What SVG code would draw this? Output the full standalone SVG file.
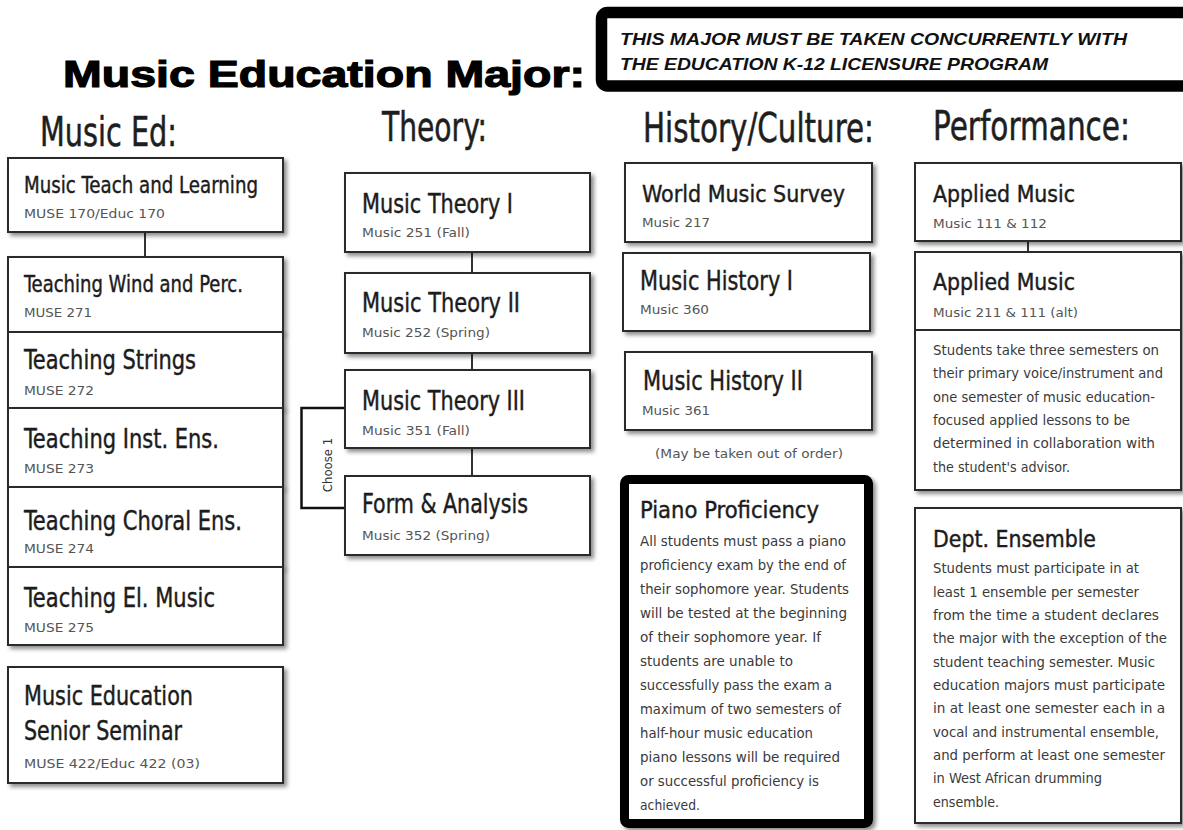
<svg xmlns="http://www.w3.org/2000/svg" width="1183" height="830" viewBox="0 0 1183 830">
<defs>
<filter id="sh" x="-10%" y="-10%" width="125%" height="125%">
<feDropShadow dx="3" dy="3" stdDeviation="2.2" flood-color="#000" flood-opacity="0.45"/>
</filter>
<style>
.bx{fill:#fff;stroke:#2a2a2a;stroke-width:2;filter:url(#sh)}
.ln{fill:none;stroke:#333;stroke-width:2}
.tt{font-family:"Liberation Sans Narrow","DejaVu Sans Condensed","Roboto Condensed","Liberation Sans",sans-serif;fill:#1c1c1c;stroke:#1c1c1c;stroke-width:0.4}
.t26{font-size:26px}
.t23{font-size:23px}
.sub{font-family:"Liberation Sans Narrow","DejaVu Sans Condensed","Liberation Sans",sans-serif;font-size:12px;fill:#555}
.body{font-family:"Liberation Sans Narrow","DejaVu Sans Condensed","Liberation Sans",sans-serif;font-size:13.5px;fill:#3a3a3a}
.hd{font-family:"Liberation Sans Narrow","DejaVu Sans Condensed","Liberation Sans",sans-serif;font-size:40px;fill:#1e1e1e;stroke:#1e1e1e;stroke-width:0.5}
</style>
</defs>
<rect width="1183" height="830" fill="#fff"/>

<g id="title">
<text x="63" y="87" font-family="Liberation Sans, Arial, sans-serif" font-weight="bold" font-size="37" fill="#000" stroke="#000" stroke-width="1.2" textLength="522" lengthAdjust="spacingAndGlyphs">Music Education Major:</text>
</g>

<g id="notice">
<rect x="601.5" y="12.5" width="600" height="73.5" rx="6" fill="#fff" stroke="#000" stroke-width="11.5"/>
<text x="620" y="45" font-family="Liberation Sans, Arial, sans-serif" font-weight="bold" font-style="italic" font-size="17" fill="#111" textLength="507" lengthAdjust="spacingAndGlyphs">THIS MAJOR MUST BE TAKEN CONCURRENTLY WITH</text>
<text x="620" y="70" font-family="Liberation Sans, Arial, sans-serif" font-weight="bold" font-style="italic" font-size="17" fill="#111" textLength="428" lengthAdjust="spacingAndGlyphs">THE EDUCATION K-12 LICENSURE PROGRAM</text>
</g>

<g id="headers">
<text class="hd" x="40" y="146" textLength="137" lengthAdjust="spacingAndGlyphs">Music Ed:</text>
<text class="hd" x="382" y="141" textLength="105" lengthAdjust="spacingAndGlyphs">Theory:</text>
<text class="hd" x="643" y="142" textLength="231" lengthAdjust="spacingAndGlyphs">History/Culture:</text>
<text class="hd" x="933" y="140" textLength="197" lengthAdjust="spacingAndGlyphs">Performance:</text>
</g>

<g id="connectors">
<line class="ln" x1="145" y1="232" x2="145" y2="257"/>
<line class="ln" x1="472" y1="252" x2="472" y2="273"/>
<line class="ln" x1="472" y1="353" x2="472" y2="370"/>
<line class="ln" x1="472" y1="448" x2="472" y2="476"/>
<line class="ln" x1="1028" y1="241" x2="1028" y2="252"/>
<path d="M345,408 H301.5 V508 H345" fill="none" stroke="#111" stroke-width="2.5"/>
<text x="0" y="0" transform="translate(332,465) rotate(-90)" text-anchor="middle" font-family="Liberation Sans Narrow, DejaVu Sans Condensed, Liberation Sans, sans-serif" font-size="13" fill="#333">Choose 1</text>
</g>

<g id="music-teach-learning">
<rect class="bx" x="8" y="158" width="275" height="74"/>
<text class="tt t23" x="24" y="193" textLength="234" lengthAdjust="spacingAndGlyphs">Music Teach and Learning</text>
<text class="sub" x="24" y="218" textLength="141" lengthAdjust="spacingAndGlyphs">MUSE 170/Educ 170</text>
</g>
<g id="teaching-wind">
<rect class="bx" x="8" y="257" width="275" height="75"/>
<text class="tt t23" x="24" y="292" textLength="219" lengthAdjust="spacingAndGlyphs">Teaching Wind and Perc.</text>
<text class="sub" x="24" y="317" textLength="68" lengthAdjust="spacingAndGlyphs">MUSE 271</text>
</g>
<g id="teaching-strings">
<rect class="bx" x="8" y="332" width="275" height="76"/>
<text class="tt t26" x="24" y="369" textLength="172" lengthAdjust="spacingAndGlyphs">Teaching Strings</text>
<text class="sub" x="24" y="395" textLength="70" lengthAdjust="spacingAndGlyphs">MUSE 272</text>
</g>
<g id="teaching-inst">
<rect class="bx" x="8" y="408" width="275" height="79"/>
<text class="tt t26" x="24" y="448" textLength="195" lengthAdjust="spacingAndGlyphs">Teaching Inst. Ens.</text>
<text class="sub" x="24" y="473" textLength="70" lengthAdjust="spacingAndGlyphs">MUSE 273</text>
</g>
<g id="teaching-choral">
<rect class="bx" x="8" y="487" width="275" height="80"/>
<text class="tt t26" x="24" y="530" textLength="218" lengthAdjust="spacingAndGlyphs">Teaching Choral Ens.</text>
<text class="sub" x="24" y="553" textLength="70" lengthAdjust="spacingAndGlyphs">MUSE 274</text>
</g>
<g id="teaching-el">
<rect class="bx" x="8" y="567" width="275" height="78"/>
<text class="tt t26" x="24" y="607" textLength="191" lengthAdjust="spacingAndGlyphs">Teaching El. Music</text>
<text class="sub" x="24" y="632" textLength="70" lengthAdjust="spacingAndGlyphs">MUSE 275</text>
</g>
<g id="senior-seminar">
<rect class="bx" x="8" y="667" width="275" height="116"/>
<text class="tt t26" x="24" y="705" textLength="169" lengthAdjust="spacingAndGlyphs">Music Education</text>
<text class="tt t26" x="24" y="740" textLength="158" lengthAdjust="spacingAndGlyphs">Senior Seminar</text>
<text class="sub" x="24" y="768" textLength="176" lengthAdjust="spacingAndGlyphs">MUSE 422/Educ 422 (03)</text>
</g>

<g id="theory-1">
<rect class="bx" x="345" y="173" width="245" height="79"/>
<text class="tt t26" x="362" y="213" textLength="151" lengthAdjust="spacingAndGlyphs">Music Theory I</text>
<text class="sub" x="362" y="237" textLength="108" lengthAdjust="spacingAndGlyphs">Music 251 (Fall)</text>
</g>
<g id="theory-2">
<rect class="bx" x="345" y="273" width="245" height="80"/>
<text class="tt t26" x="362" y="312" textLength="158" lengthAdjust="spacingAndGlyphs">Music Theory II</text>
<text class="sub" x="362" y="337" textLength="128" lengthAdjust="spacingAndGlyphs">Music 252 (Spring)</text>
</g>
<g id="theory-3">
<rect class="bx" x="345" y="370" width="245" height="78"/>
<text class="tt t26" x="362" y="410" textLength="163" lengthAdjust="spacingAndGlyphs">Music Theory III</text>
<text class="sub" x="362" y="435" textLength="108" lengthAdjust="spacingAndGlyphs">Music 351 (Fall)</text>
</g>
<g id="form-analysis">
<rect class="bx" x="345" y="476" width="245" height="79"/>
<text class="tt t26" x="362" y="513" textLength="166" lengthAdjust="spacingAndGlyphs">Form &amp; Analysis</text>
<text class="sub" x="362" y="540" textLength="128" lengthAdjust="spacingAndGlyphs">Music 352 (Spring)</text>
</g>

<g id="world-music">
<rect class="bx" x="625" y="163" width="247" height="79"/>
<text class="tt t23" x="642" y="202" textLength="203" lengthAdjust="spacingAndGlyphs">World Music Survey</text>
<text class="sub" x="642" y="227" textLength="68" lengthAdjust="spacingAndGlyphs">Music 217</text>
</g>
<g id="history-1">
<rect class="bx" x="623" y="253" width="247" height="78"/>
<text class="tt t26" x="640" y="290" textLength="153" lengthAdjust="spacingAndGlyphs">Music History I</text>
<text class="sub" x="640" y="314" textLength="69" lengthAdjust="spacingAndGlyphs">Music 360</text>
</g>
<g id="history-2">
<rect class="bx" x="625" y="352" width="247" height="78"/>
<text class="tt t26" x="643" y="390" textLength="160" lengthAdjust="spacingAndGlyphs">Music History II</text>
<text class="sub" x="642" y="415" textLength="68" lengthAdjust="spacingAndGlyphs">Music 361</text>
</g>
<g id="order-note">
<text class="sub" x="655" y="458" font-size="13" fill="#444" textLength="188" lengthAdjust="spacingAndGlyphs">(May be taken out of order)</text>
</g>

<g id="piano">
<rect x="624.5" y="479.5" width="244" height="344" rx="4" fill="#fff" stroke="#000" stroke-width="9" filter="url(#sh)"/>
<text class="tt t23" x="640" y="518" textLength="179" lengthAdjust="spacingAndGlyphs">Piano Proficiency</text>
<text class="body" x="640" y="546" textLength="206" lengthAdjust="spacingAndGlyphs">All students must pass a piano</text>
<text class="body" x="640" y="570" textLength="206" lengthAdjust="spacingAndGlyphs">proficiency exam by the end of</text>
<text class="body" x="640" y="594" textLength="209" lengthAdjust="spacingAndGlyphs">their sophomore year. Students</text>
<text class="body" x="640" y="618" textLength="207" lengthAdjust="spacingAndGlyphs">will be tested at the beginning</text>
<text class="body" x="640" y="642" textLength="181" lengthAdjust="spacingAndGlyphs">of their sophomore year. If</text>
<text class="body" x="640" y="666" textLength="153" lengthAdjust="spacingAndGlyphs">students are unable to</text>
<text class="body" x="640" y="690" textLength="192" lengthAdjust="spacingAndGlyphs">successfully pass the exam a</text>
<text class="body" x="640" y="714" textLength="201" lengthAdjust="spacingAndGlyphs">maximum of two semesters of</text>
<text class="body" x="640" y="738" textLength="173" lengthAdjust="spacingAndGlyphs">half-hour music education</text>
<text class="body" x="640" y="762" textLength="200" lengthAdjust="spacingAndGlyphs">piano lessons will be required</text>
<text class="body" x="640" y="786" textLength="179" lengthAdjust="spacingAndGlyphs">or successful proficiency is</text>
<text class="body" x="640" y="810" textLength="60" lengthAdjust="spacingAndGlyphs">achieved.</text>
</g>

<g id="applied-1">
<rect class="bx" x="915" y="163" width="266" height="78"/>
<text class="tt t23" x="933" y="202" textLength="142" lengthAdjust="spacingAndGlyphs">Applied Music</text>
<text class="sub" x="933" y="228" textLength="114" lengthAdjust="spacingAndGlyphs">Music 111 &amp; 112</text>
</g>
<g id="applied-2">
<rect class="bx" x="915" y="252" width="266" height="238"/>
<line x1="915" y1="330" x2="1181" y2="330" stroke="#2a2a2a" stroke-width="2"/>
<text class="tt t23" x="933" y="290" textLength="142" lengthAdjust="spacingAndGlyphs">Applied Music</text>
<text class="sub" x="933" y="317" textLength="145" lengthAdjust="spacingAndGlyphs">Music 211 &amp; 111 (alt)</text>
<text class="body" x="933" y="355" textLength="226" lengthAdjust="spacingAndGlyphs">Students take three semesters on</text>
<text class="body" x="933" y="378" textLength="230" lengthAdjust="spacingAndGlyphs">their primary voice/instrument and</text>
<text class="body" x="933" y="402" textLength="222" lengthAdjust="spacingAndGlyphs">one semester of music education-</text>
<text class="body" x="933" y="425" textLength="197" lengthAdjust="spacingAndGlyphs">focused applied lessons to be</text>
<text class="body" x="933" y="448" textLength="222" lengthAdjust="spacingAndGlyphs">determined in collaboration with</text>
<text class="body" x="933" y="472" textLength="137" lengthAdjust="spacingAndGlyphs">the student's advisor.</text>
</g>
<g id="dept-ensemble">
<rect class="bx" x="915" y="508" width="266" height="315"/>
<text class="tt t23" x="933" y="547" textLength="163" lengthAdjust="spacingAndGlyphs">Dept. Ensemble</text>
<text class="body" x="933" y="573" textLength="206" lengthAdjust="spacingAndGlyphs">Students must participate in at</text>
<text class="body" x="933" y="597" textLength="206" lengthAdjust="spacingAndGlyphs">least 1 ensemble per semester</text>
<text class="body" x="933" y="620" textLength="226" lengthAdjust="spacingAndGlyphs">from the time a student declares</text>
<text class="body" x="933" y="643" textLength="234" lengthAdjust="spacingAndGlyphs">the major with the exception of the</text>
<text class="body" x="933" y="667" textLength="222" lengthAdjust="spacingAndGlyphs">student teaching semester. Music</text>
<text class="body" x="933" y="690" textLength="232" lengthAdjust="spacingAndGlyphs">education majors must participate</text>
<text class="body" x="933" y="713" textLength="232" lengthAdjust="spacingAndGlyphs">in at least one semester each in a</text>
<text class="body" x="933" y="737" textLength="226" lengthAdjust="spacingAndGlyphs">vocal and instrumental ensemble,</text>
<text class="body" x="933" y="760" textLength="232" lengthAdjust="spacingAndGlyphs">and perform at least one semester</text>
<text class="body" x="933" y="783" textLength="169" lengthAdjust="spacingAndGlyphs">in West African drumming</text>
<text class="body" x="933" y="807" textLength="66" lengthAdjust="spacingAndGlyphs">ensemble.</text>
</g>
</svg>
